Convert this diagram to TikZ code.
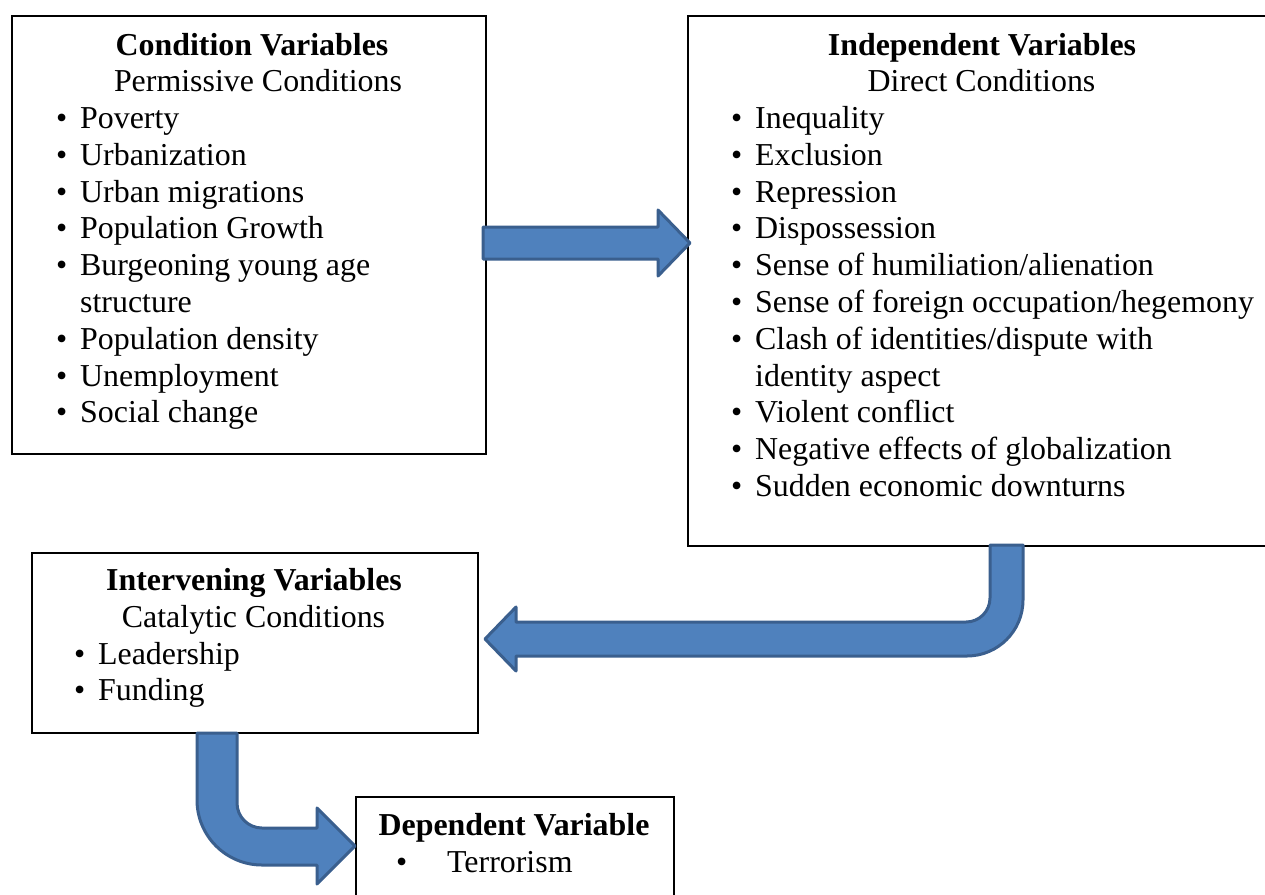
\documentclass[tikz,border=0pt]{standalone}
\usepackage{fontspec}
\setmainfont{Liberation Serif}
\usetikzlibrary{calc}
\definecolor{arrowfill}{HTML}{4F81BD}
\definecolor{arrowline}{HTML}{3A5F8E}
\tikzset{
  box/.style={draw=black, line width=2pt, fill=white, anchor=north west, inner sep=0pt},
  txt/.style={anchor=base west, inner sep=0pt, font=\fontsize{31.9}{36.8}\selectfont},
  ttl/.style={anchor=base, inner sep=0pt, font=\fontsize{31.9}{36.8}\selectfont\bfseries},
  sub/.style={anchor=base, inner sep=0pt, font=\fontsize{31.9}{36.8}\selectfont},
  fatarrow/.style={fill=arrowfill, draw=arrowline, line width=3pt, line join=round},
}
\newcommand{\bul}[1]{\llap{\textbullet\hspace{#1}}}

\begin{document}
\begin{tikzpicture}[x=1pt,y=-1pt]
\clip (0,0) rectangle (1265,894);
\fill[white] (0,0) rectangle (1265,894);

% boxes
\node[box, minimum width=474pt, minimum height=438pt] (A) at (11,15) {};
\node[box, minimum width=600pt, minimum height=530pt] (B) at (687,15) {};
\node[box, minimum width=446pt, minimum height=180pt] (C) at (31,552) {};
\node[box, minimum width=318pt, minimum height=150pt] (D) at (355,796) {};

% condition variables
\node[ttl] (a0) at (252,55.5) {Condition Variables};
\node[sub] (as) at (258,91.5) {Permissive Conditions};
\node[txt] (a1) at (80,128.5) {\bul{13pt}Poverty};
\node[txt] (a2) at (80,165.3) {\bul{13pt}Urbanization};
\node[txt] (a3) at (80,202.1) {\bul{13pt}Urban migrations};
\node[txt] (a4) at (80,238.9) {\bul{13pt}Population Growth};
\node[txt] (a5) at (80,275.7) {\bul{13pt}Burgeoning young age};
\node[txt] (a6) at (80,312.5) {structure};
\node[txt] (a7) at (80,349.3) {\bul{13pt}Population density};
\node[txt] (a8) at (80,386.1) {\bul{13pt}Unemployment};
\node[txt] (a9) at (80,422.9) {\bul{13pt}Social change};

% independent variables
\node[ttl] (b0) at (982,55.5) {Independent Variables};
\node[sub] (bs) at (981.5,91.5) {Direct Conditions};
\node[txt] (b1) at (755,128.5) {\bul{13pt}Inequality};
\node[txt] (b2) at (755,165.3) {\bul{13pt}Exclusion};
\node[txt] (b3) at (755,202.1) {\bul{13pt}Repression};
\node[txt] (b4) at (755,238.9) {\bul{13pt}Dispossession};
\node[txt] (b5) at (755,275.7) {\bul{13pt}Sense of humiliation/alienation};
\node[txt] (b6) at (755,312.5) {\bul{13pt}Sense of foreign occupation/hegemony};
\node[txt] (b7) at (755,349.3) {\bul{13pt}Clash of identities/dispute with};
\node[txt] (b8) at (755,386.1) {identity aspect};
\node[txt] (b9) at (755,422.9) {\bul{13pt}Violent conflict};
\node[txt] (b10) at (755,459.7) {\bul{13pt}Negative effects of globalization};
\node[txt] (b11) at (755,496.5) {\bul{13pt}Sudden economic downturns};

% intervening variables
\node[ttl] (c0) at (254,590.5) {Intervening Variables};
\node[sub] (cs) at (253.5,627.5) {Catalytic Conditions};
\node[txt] (c1) at (98,664) {\bul{13pt}Leadership};
\node[txt] (c2) at (98,700.5) {\bul{13pt}Funding};

% dependent variable
\node[ttl] (d0) at (514,835.5) {Dependent Variable};
\node[txt] (d1) at (447,872.5) {\bul{40pt}Terrorism};

% block arrows between the boxes
\coordinate (t1) at (B.west |- 0,243);
\coordinate (t2) at (C.east |- 0,639);
\coordinate (t3) at (D.west |- 0,846);

\draw[fatarrow] (483,227) -- (658,227) -- (658,210) -- ($(t1)+(3,0)$) -- (658,276)
  -- (658,259) -- (483,259) -- cycle;

\draw[fatarrow] (990,545) -- (1023,545) -- (1023,600)
  .. controls (1023,630.9) and (997.9,656) .. (967,656)
  -- (516,656) -- (516,671) -- ($(t2)+(6,0)$) -- (516,607) -- (516,622) -- (966,622)
  .. controls (979.3,622) and (990,611.3) .. (990,598) -- cycle;

\draw[fatarrow] (197,733) -- (237,733) -- (237,803)
  .. controls (237,816.8) and (248.2,828) .. (262,828)
  -- (317,828) -- (317,808) -- (t3) -- (317,884) -- (317,865) -- (262,865)
  .. controls (226.1,865) and (197,835.9) .. (197,800) -- cycle;
\end{tikzpicture}
\end{document}
